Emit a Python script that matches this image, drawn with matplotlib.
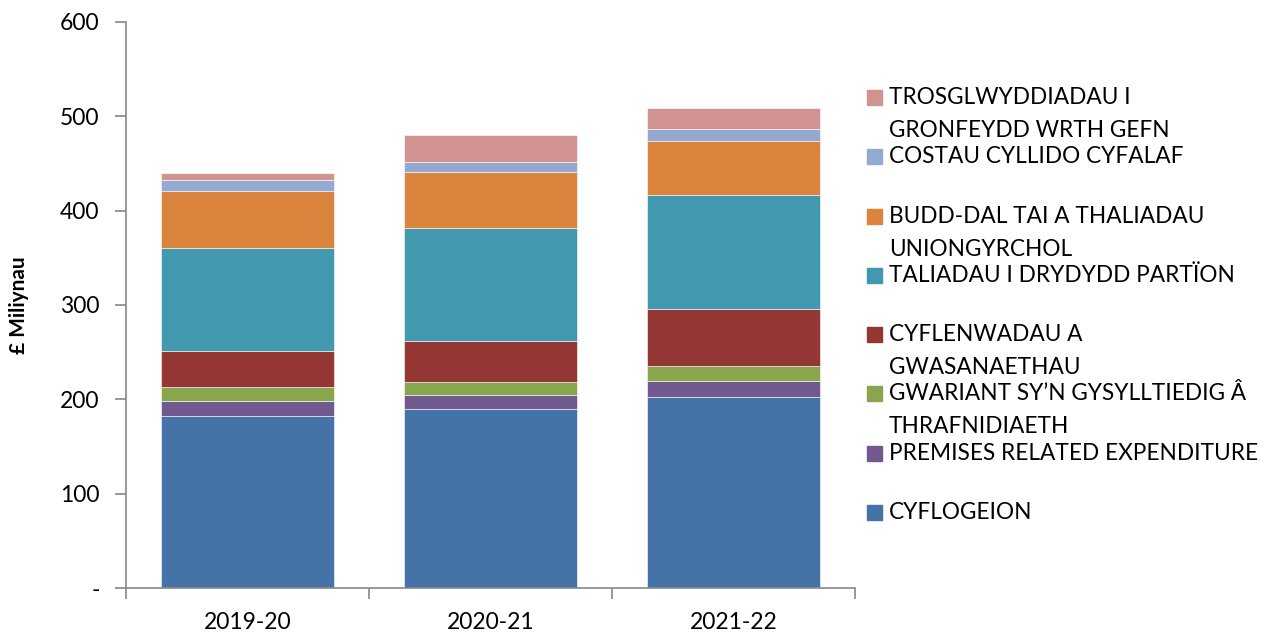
import matplotlib.pyplot as plt
from matplotlib.patches import Rectangle

# Data (£ millions)
years = ['2019-20', '2020-21', '2021-22']
series_names = [
    'CYFLOGEION',
    'PREMISES RELATED EXPENDITURE',
    'GWARIANT SY\u2019N GYSYLLTIEDIG \u00c2\nTHRAFNIDIAETH',
    'CYFLENWADAU A\nGWASANAETHAU',
    'TALIADAU I DRYDYDD PART\u00cfON',
    'BUDD-DAL TAI A THALIADAU\nUNIONGYRCHOL',
    'COSTAU CYLLIDO CYFALAF',
    'TROSGLWYDDIADAU I\nGRONFEYDD WRTH GEFN',
]
cyflogeion = [182.6, 189.4, 202.2]
premises = [15.6, 14.9, 17.6]
trafnidiaeth = [15.2, 14.1, 15.5]
cyflenwadau = [38.2, 43.8, 60.5]
trydydd_parti = [109.2, 119.8, 121.2]
budd_dal = [60.4, 58.7, 57.2]
cyfalaf = [11.7, 10.9, 12.7]
wrth_gefn = [7.4, 28.6, 21.6]
colors = ['#4572A7', '#71588F', '#89A54E', '#943634',
          '#4198AF', '#DB843D', '#93A9CF', '#D19392']

series = [cyflogeion, premises, trafnidiaeth, cyflenwadau,
          trydydd_parti, budd_dal, cyfalaf, wrth_gefn]

plt.rcParams['font.family'] = ['Lato', 'DejaVu Sans']

fig = plt.figure(figsize=(12.67, 6.35), dpi=100)
ax = fig.add_axes([0.0994, 0.074, 0.5754, 0.8914])

x = range(len(years))
bottom = [0, 0, 0]
for vals, c in zip(series, colors):
    ax.bar(x, vals, bottom=bottom, width=0.71, color=c,
           edgecolor='white', linewidth=0.4)
    bottom = [b + v for b, v in zip(bottom, vals)]

ax.set_xlim(-0.5, 2.5)
ax.set_ylim(0, 600)
ax.set_yticks([0, 100, 200, 300, 400, 500, 600])
ax.set_yticklabels(['-', '100', '200', '300', '400', '500', '600'], fontsize=16.5)
ax.set_xticks([-0.5, 0.5, 1.5, 2.5])
ax.set_xticklabels([])
ax.set_xticks([0, 1, 2], minor=True)
ax.set_xticklabels(years, minor=True, fontsize=16.5)
ax.tick_params(axis='x', which='minor', length=0, pad=17)
ax.tick_params(axis='x', which='major', length=8, color='#888888', width=1.2)
ax.tick_params(axis='y', length=8, color='#888888', width=1.2, pad=11)
for s in ['top', 'right']:
    ax.spines[s].set_visible(False)
for s in ['left', 'bottom']:
    ax.spines[s].set_color('#888888')
    ax.spines[s].set_linewidth(1.2)
ax.set_ylabel('\u00a3 Miliynau', fontsize=15, fontweight='bold', labelpad=22)

# Legend drawn by hand so the swatch lines up with the first text line
W, H = 1267, 635
legend_y = [97, 156, 216, 275, 334, 393, 453, 512]
order = list(range(len(series_names)))[::-1]
for yy, i in zip(legend_y, order):
    fig.patches.append(Rectangle((867 / W, 1 - (yy + 7.5) / H), 15 / W, 15 / H,
                                 transform=fig.transFigure, color=colors[i]))
    fig.text(889 / W, 1 - (yy - 10) / H, series_names[i], fontsize=16.3,
             va='top', ha='left', linespacing=1.7)

fig.savefig('out.png', dpi=100)
